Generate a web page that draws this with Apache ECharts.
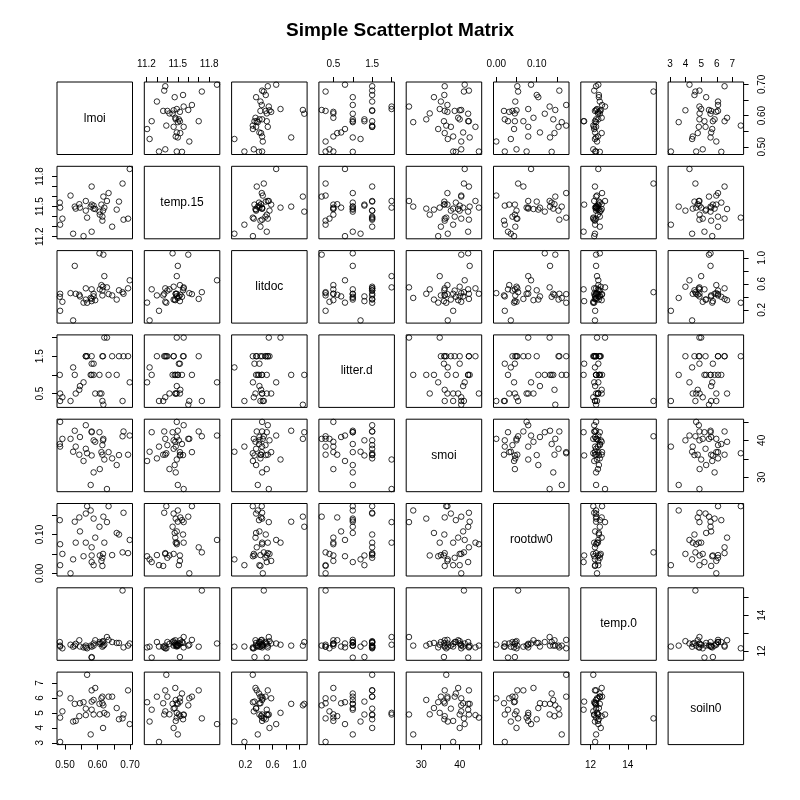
<!DOCTYPE html>
<html><head><meta charset="utf-8">
<script src="https://cdn.jsdelivr.net/npm/echarts@6/dist/echarts.min.js"></script>
<style>html,body{margin:0;padding:0;background:#fff}#c{width:800px;height:800px}</style>
</head><body><div id="c"></div>
<script>
const varNames = ['lmoi','temp.15','litdoc','litter.d','smoi','rootdw0','temp.0','soiln0'];
const lmoi = [0.694,0.677,0.699,0.680,0.659,0.645,0.621,0.629,0.634,0.615,0.612,0.615,0.617,0.588,0.582,0.582,0.582,0.593,0.618,0.588,0.579,0.568,0.564,0.557,0.564,0.546,0.544,0.530,0.517,0.525,0.533,0.485,0.492,0.485,0.484,0.606,0.607,0.666];
const temp15 = [11.38,11.73,11.875,11.37,11.47,11.30,11.49,11.556,11.635,11.36,11.52,11.40,11.46,11.51,11.25,11.52,11.70,11.476,11.60,11.48,11.50,11.39,11.46,11.206,11.556,11.49,11.524,11.50,11.61,11.23,11.48,11.32,11.38,11.49,11.54,11.45,11.42,11.55];
const litdoc = [0.530,0.471,0.654,0.446,0.357,0.421,0.718,0.545,0.441,0.421,0.580,0.496,0.555,0.406,0.515,0.333,0.367,0.348,1.049,0.446,0.382,0.308,0.357,0.310,0.530,0.406,0.431,0.876,0.456,0.036,0.446,0.184,0.323,0.446,0.400,1.070,0.515,0.500];
const litterd = [1.5,0.3,0.8,1.5,1.0,1.5,2.0,2.0,1.0,0.3,0.5,1.5,1.5,1.3,1.0,1.3,1.5,0.5,0.2,1.0,1.0,1.5,1.5,0.8,1.5,0.7,0.6,1.0,0.3,1.2,0.5,0.3,0.4,0.5,1.0,1.0,0.5,1.5];
const smoi = [36.1,41.1,41.3,42.4,33.3,35.1,34.8,26.8,36.8,36.1,36.8,38.7,40.0,40.0,42.2,35.9,42.4,39.6,40.4,31.3,27.9,36.5,37.7,34.4,44.1,40.9,36.1,42.6,40.4,36.9,38.3,38.3,40.4,45.0,39.0,42.2,32.2,36.0];
const rootdw0 = [0.052,0.054,0.086,0.156,0.104,0.047,0.079,0.132,0.173,0.019,0.032,0.040,0.050,0.021,0.029,0.046,0.067,0.092,0.146,0.141,0.162,0.173,0.154,0.044,0.079,0.108,0.144,0.133,0.000,0.036,0.079,0.021,0.050,0.075,0.137,0.120,0.046,0.100];
const temp0 = [12.30,15.38,12.42,12.20,12.45,12.50,12.35,12.78,12.62,12.24,12.42,12.50,12.55,12.42,11.63,11.66,12.24,12.60,12.30,12.30,12.30,12.15,12.30,12.20,12.20,12.25,12.60,12.30,12.35,12.24,12.40,12.25,12.15,12.30,12.50,12.50,12.40,12.45];
const soiln0 = [6.50,4.63,4.25,4.89,5.32,6.08,5.00,4.89,6.08,5.64,5.97,6.08,3.99,4.89,5.21,5.75,6.50,6.66,5.50,5.86,3.56,7.54,5.28,5.71,4.85,5.64,4.78,5.60,5.97,4.42,4.46,3.06,5.10,4.68,6.29,5.60,4.90,4.57];

const lmoiTicks = [0.50,0.55,0.60,0.65,0.70];      const lmoiLabels = ['0.50','0.60','0.70'];
const temp15Ticks = [11.2,11.3,11.4,11.5,11.6,11.7,11.8]; const temp15Labels = ['11.2','11.5','11.8'];
const litdocTicks = [0.2,0.4,0.6,0.8,1.0];         const litdocLabels = ['0.2','0.6','1.0'];
const litterdTicks = [0.5,1.0,1.5,2.0];            const litterdLabels = ['0.5','1.5'];
const smoiTicks = [30,35,40,45];                   const smoiLabels = ['30','40'];
const rootdw0Ticks = [0.00,0.05,0.10,0.15];        const rootdw0Labels = ['0.00','0.10'];
const temp0Ticks = [12,13,14,15];                  const temp0Labels = ['12','14'];
const soiln0Ticks = [3,4,5,6,7];                   const soiln0Labels = ['3','4','5','6','7'];

const vars = [lmoi,temp15,litdoc,litterd,smoi,rootdw0,temp0,soiln0];
const ticks = [lmoiTicks,temp15Ticks,litdocTicks,litterdTicks,smoiTicks,rootdw0Ticks,temp0Ticks,soiln0Ticks];
const labels = [lmoiLabels,temp15Labels,litdocLabels,litterdLabels,smoiLabels,rootdw0Labels,temp0Labels,soiln0Labels];

const N = 8, LEFT = 57, TOP = 82, CW = 87.3, CH = 84.3, PW = 75.5, PH = 72.5;
const FONT = 'Liberation Sans, Arial, Helvetica, sans-serif';

function range(a){
  const mn = Math.min(...a), mx = Math.max(...a), d = mx - mn;
  return [mn - 0.04*d, mx + 0.04*d];
}
function fmt(k){
  return v => { const s = labels[k].find(t => Math.abs(Number(t) - v) < 1e-9); return s === undefined ? '' : s; };
}

const grids = [], xAxes = [], yAxes = [], series = [], graphics = [];
for (let r = 0; r < N; r++) {
  for (let c = 0; c < N; c++) {
    const idx = r*N + c;
    const left = LEFT + c*CW, top = TOP + r*CH;
    grids.push({left: left, top: top, width: PW, height: PH, show: true, borderColor: '#000', borderWidth: 1, backgroundColor: 'transparent', containLabel: false});
    const [xmin, xmax] = range(vars[c]);
    const [ymin, ymax] = range(vars[r]);
    const showTop = (r === 0 && c % 2 === 1);
    const showBottom = (r === N-1 && c % 2 === 0);
    const showLeft = (c === 0 && r % 2 === 1);
    const showRight = (c === N-1 && r % 2 === 0);
    const showX = showTop || showBottom, showY = showLeft || showRight;
    xAxes.push({
      gridIndex: idx, type: 'value', min: xmin, max: xmax,
      position: showTop ? 'top' : 'bottom',
      axisLine: {show: false}, splitLine: {show: false},
      axisTick: {show: showX, inside: false, length: 5, lineStyle: {color: '#000', width: 1}, customValues: ticks[c]},
      axisLabel: {show: showX, margin: showTop ? 13 : 16, color: '#000', fontSize: 10, fontFamily: FONT,
                  customValues: labels[c].map(Number), formatter: fmt(c), showMinLabel: true, showMaxLabel: true}
    });
    yAxes.push({
      gridIndex: idx, type: 'value', min: ymin, max: ymax,
      position: showLeft ? 'left' : 'right',
      axisLine: {show: false}, splitLine: {show: false},
      axisTick: {show: showY, inside: false, length: 5, lineStyle: {color: '#000', width: 1}, customValues: ticks[r]},
      axisLabel: {show: showY, rotate: 90, margin: showLeft ? 12 : 14, color: '#000', fontSize: 10, fontFamily: FONT,
                  customValues: labels[r].map(Number), formatter: fmt(r), showMinLabel: true, showMaxLabel: true}
    });
    if (r === c) {
      graphics.push({type: 'text', x: left + PW/2, y: top + PH/2,
        style: {text: varNames[r], fill: '#000', fontSize: 12, fontFamily: FONT, align: 'center', verticalAlign: 'middle'}});
    } else {
      const data = vars[c].map((v, i) => [v, vars[r][i]]);
      series.push({type: 'scatter', xAxisIndex: idx, yAxisIndex: idx, data: data, symbol: 'circle', symbolSize: 5.5,
        itemStyle: {color: 'rgba(0,0,0,0)', borderColor: '#000', borderWidth: 1}, silent: true});
    }
  }
}

const chart = echarts.init(document.getElementById('c'), null, {renderer: 'canvas'});
chart.setOption({
  animation: false,
  backgroundColor: '#fff',
  title: {text: 'Simple Scatterplot Matrix', left: 'center', top: 16,
          textStyle: {fontSize: 19, fontWeight: 'bold', color: '#000', fontFamily: FONT}},
  grid: grids, xAxis: xAxes, yAxis: yAxes, series: series,
  graphic: graphics
});
</script></body></html>
